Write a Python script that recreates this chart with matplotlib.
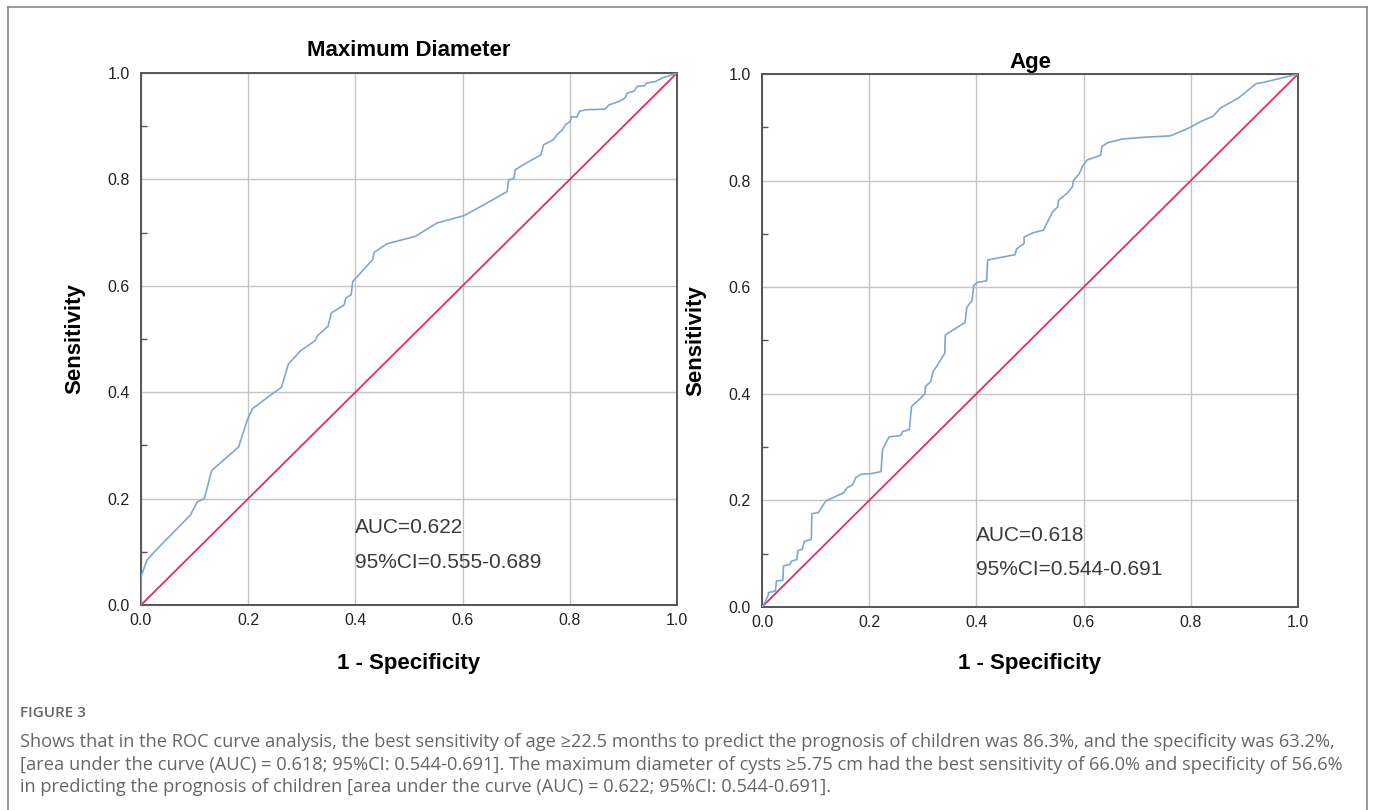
import matplotlib
matplotlib.use("Agg")
import matplotlib.pyplot as plt
from matplotlib.lines import Line2D
from matplotlib.ticker import MultipleLocator

# ---- data ----
diam_fpr = [0.0, 0.0, 0.011, 0.025, 0.092, 0.105, 0.118, 0.132, 0.182, 0.198, 0.208, 0.245,
            0.262, 0.275, 0.298, 0.325, 0.329, 0.349, 0.355, 0.379, 0.382, 0.392, 0.395,
            0.432, 0.435, 0.459, 0.512, 0.552, 0.603, 0.639, 0.683, 0.686, 0.696, 0.698,
            0.719, 0.746, 0.751, 0.770, 0.776, 0.786, 0.792, 0.801, 0.803, 0.813, 0.818,
            0.830, 0.866, 0.873, 0.893, 0.903, 0.907, 0.920, 0.926, 0.940, 0.943, 0.960,
            0.973, 0.986, 1.0]
diam_tpr = [0.0, 0.053, 0.084, 0.100, 0.169, 0.194, 0.200, 0.253, 0.297, 0.347, 0.369, 0.397,
            0.409, 0.453, 0.478, 0.497, 0.506, 0.524, 0.549, 0.564, 0.577, 0.583, 0.608,
            0.649, 0.663, 0.679, 0.693, 0.718, 0.732, 0.752, 0.777, 0.799, 0.802, 0.818,
            0.831, 0.846, 0.865, 0.875, 0.884, 0.893, 0.903, 0.909, 0.918, 0.917, 0.928,
            0.931, 0.932, 0.940, 0.947, 0.953, 0.962, 0.966, 0.975, 0.976, 0.981, 0.984,
            0.991, 0.995, 1.0]

age_fpr = [0.0, 0.005, 0.012, 0.012, 0.025, 0.027, 0.039, 0.040, 0.052, 0.055, 0.065, 0.067,
           0.075, 0.079, 0.092, 0.093, 0.105, 0.119, 0.132, 0.152, 0.159, 0.169, 0.175,
           0.185, 0.202, 0.222, 0.225, 0.237, 0.259, 0.262, 0.275, 0.279, 0.295, 0.304,
           0.305, 0.315, 0.319, 0.341, 0.342, 0.349, 0.379, 0.382, 0.392, 0.395, 0.402,
           0.419, 0.421, 0.472, 0.475, 0.489, 0.489, 0.505, 0.525, 0.542, 0.552, 0.553,
           0.569, 0.579, 0.581, 0.592, 0.595, 0.599, 0.607, 0.625, 0.632, 0.634, 0.645,
           0.672, 0.709, 0.762, 0.795, 0.819, 0.842, 0.855, 0.889, 0.922, 0.935, 1.0]
age_tpr = [0.0, 0.008, 0.023, 0.027, 0.030, 0.049, 0.050, 0.077, 0.080, 0.086, 0.089, 0.106,
           0.108, 0.123, 0.127, 0.175, 0.177, 0.199, 0.205, 0.214, 0.224, 0.229, 0.243,
           0.249, 0.250, 0.254, 0.296, 0.319, 0.322, 0.329, 0.333, 0.376, 0.391, 0.400,
           0.414, 0.423, 0.441, 0.476, 0.510, 0.515, 0.534, 0.562, 0.575, 0.603, 0.609,
           0.612, 0.651, 0.661, 0.672, 0.682, 0.694, 0.702, 0.707, 0.741, 0.751, 0.763,
           0.776, 0.788, 0.800, 0.813, 0.820, 0.829, 0.839, 0.845, 0.848, 0.864, 0.871,
           0.878, 0.881, 0.884, 0.898, 0.911, 0.921, 0.936, 0.955, 0.982, 0.984, 1.0]

ref_line = [0.0, 1.0]
ticks = [0.0, 0.2, 0.4, 0.6, 0.8, 1.0]
tick_labels = ["0.0", "0.2", "0.4", "0.6", "0.8", "1.0"]

titles = ["Maximum Diameter", "Age"]
auc_texts = ["AUC=0.622", "AUC=0.618"]
ci_texts = ["95%CI=0.555-0.689", "95%CI=0.544-0.691"]

caption_head = "FIGURE 3"
caption_lines = [
    "Shows that in the ROC curve analysis, the best sensitivity of age \u226522.5 months to predict the prognosis of children was 86.3%, and the specificity was 63.2%,",
    "[area under the curve (AUC) = 0.618; 95%CI: 0.544-0.691]. The maximum diameter of cysts \u22655.75 cm had the best sensitivity of 66.0% and specificity of 56.6%",
    "in predicting the prognosis of children [area under the curve (AUC) = 0.622; 95%CI: 0.544-0.691].",
]

# ---- styling ----
plt.rcParams["font.family"] = ["Liberation Sans", "DejaVu Sans"]
W, H = 1375, 810
fig = plt.figure(figsize=(W / 100, H / 100), dpi=100)

curve_color = "#7FA6D8"
diag_color = "#E0305E"
grid_color = "#C4C4C4"
spine_color = "#555555"

ax_rects = [
    (141 / W, 1 - 605 / H, 536 / W, 532 / H),
    (762 / W, 1 - 607 / H, 536 / W, 533 / H),
]
curves = [(diam_fpr, diam_tpr), (age_fpr, age_tpr)]
title_pads = [12, 4]
xlabel_pads = [18, 16]
text_y = [(0.146, 0.080), (0.135, 0.070)]

for i in range(2):
    ax = fig.add_axes(ax_rects[i])
    ax.set_xlim(0, 1)
    ax.set_ylim(0, 1)
    ax.set_xticks(ticks)
    ax.set_xticklabels(tick_labels)
    ax.set_yticks(ticks)
    ax.set_yticklabels(tick_labels)
    ax.yaxis.set_minor_locator(MultipleLocator(0.1))
    ax.tick_params(axis="both", which="major", length=0, labelsize=11.5, labelcolor="#222222")
    ax.tick_params(axis="x", which="major", pad=6)
    ax.tick_params(axis="y", which="major", pad=8)
    ax.tick_params(axis="y", which="minor", direction="in", length=4, width=1, color="#555555")
    ax.tick_params(axis="x", which="minor", length=0)
    ax.grid(True, which="major", color=grid_color, linewidth=1.0)
    ax.set_axisbelow(True)
    for s in ax.spines.values():
        s.set_color(spine_color)
        s.set_linewidth(1.4)
    ax.plot(ref_line, ref_line, color=diag_color, linewidth=1.3, zorder=3)
    ax.plot(curves[i][0], curves[i][1], color=curve_color, linewidth=1.2, zorder=4)
    ax.set_title(titles[i], fontsize=16, fontweight="bold", pad=title_pads[i])
    ax.set_xlabel("1 - Specificity", fontsize=16, fontweight="bold", labelpad=xlabel_pads[i])
    ax.set_ylabel("Sensitivity", fontsize=16, fontweight="bold", labelpad=16)
    ax.text(0.4, text_y[i][0], auc_texts[i], fontsize=15, color="#3a3a3a",
            ha="left", va="center")
    ax.text(0.4, text_y[i][1], ci_texts[i], fontsize=15, color="#3a3a3a",
            ha="left", va="center")

# outer border (open at the bottom)
bx0, bx1, by = 8 / W, 1367 / W, 1 - 7 / H
for xs, ys in [([bx0, bx0], [0, by]), ([bx0, bx1], [by, by]), ([bx1, bx1], [by, 0])]:
    fig.add_artist(Line2D(xs, ys, color="#888888", linewidth=1.2, transform=fig.transFigure))

# caption
cap_font = ["Open Sans", "DejaVu Sans"]
fig.text(20 / W, 1 - 713 / H, caption_head, fontsize=11, color="#666666",
         family=cap_font, fontweight="semibold", va="center", ha="left")
for k, line in enumerate(caption_lines):
    fig.text(20 / W, 1 - (742 + 22.5 * k) / H, line, fontsize=13.15, color="#666666",
             family=cap_font, va="center", ha="left")

fig.savefig("out.png", dpi=100)
